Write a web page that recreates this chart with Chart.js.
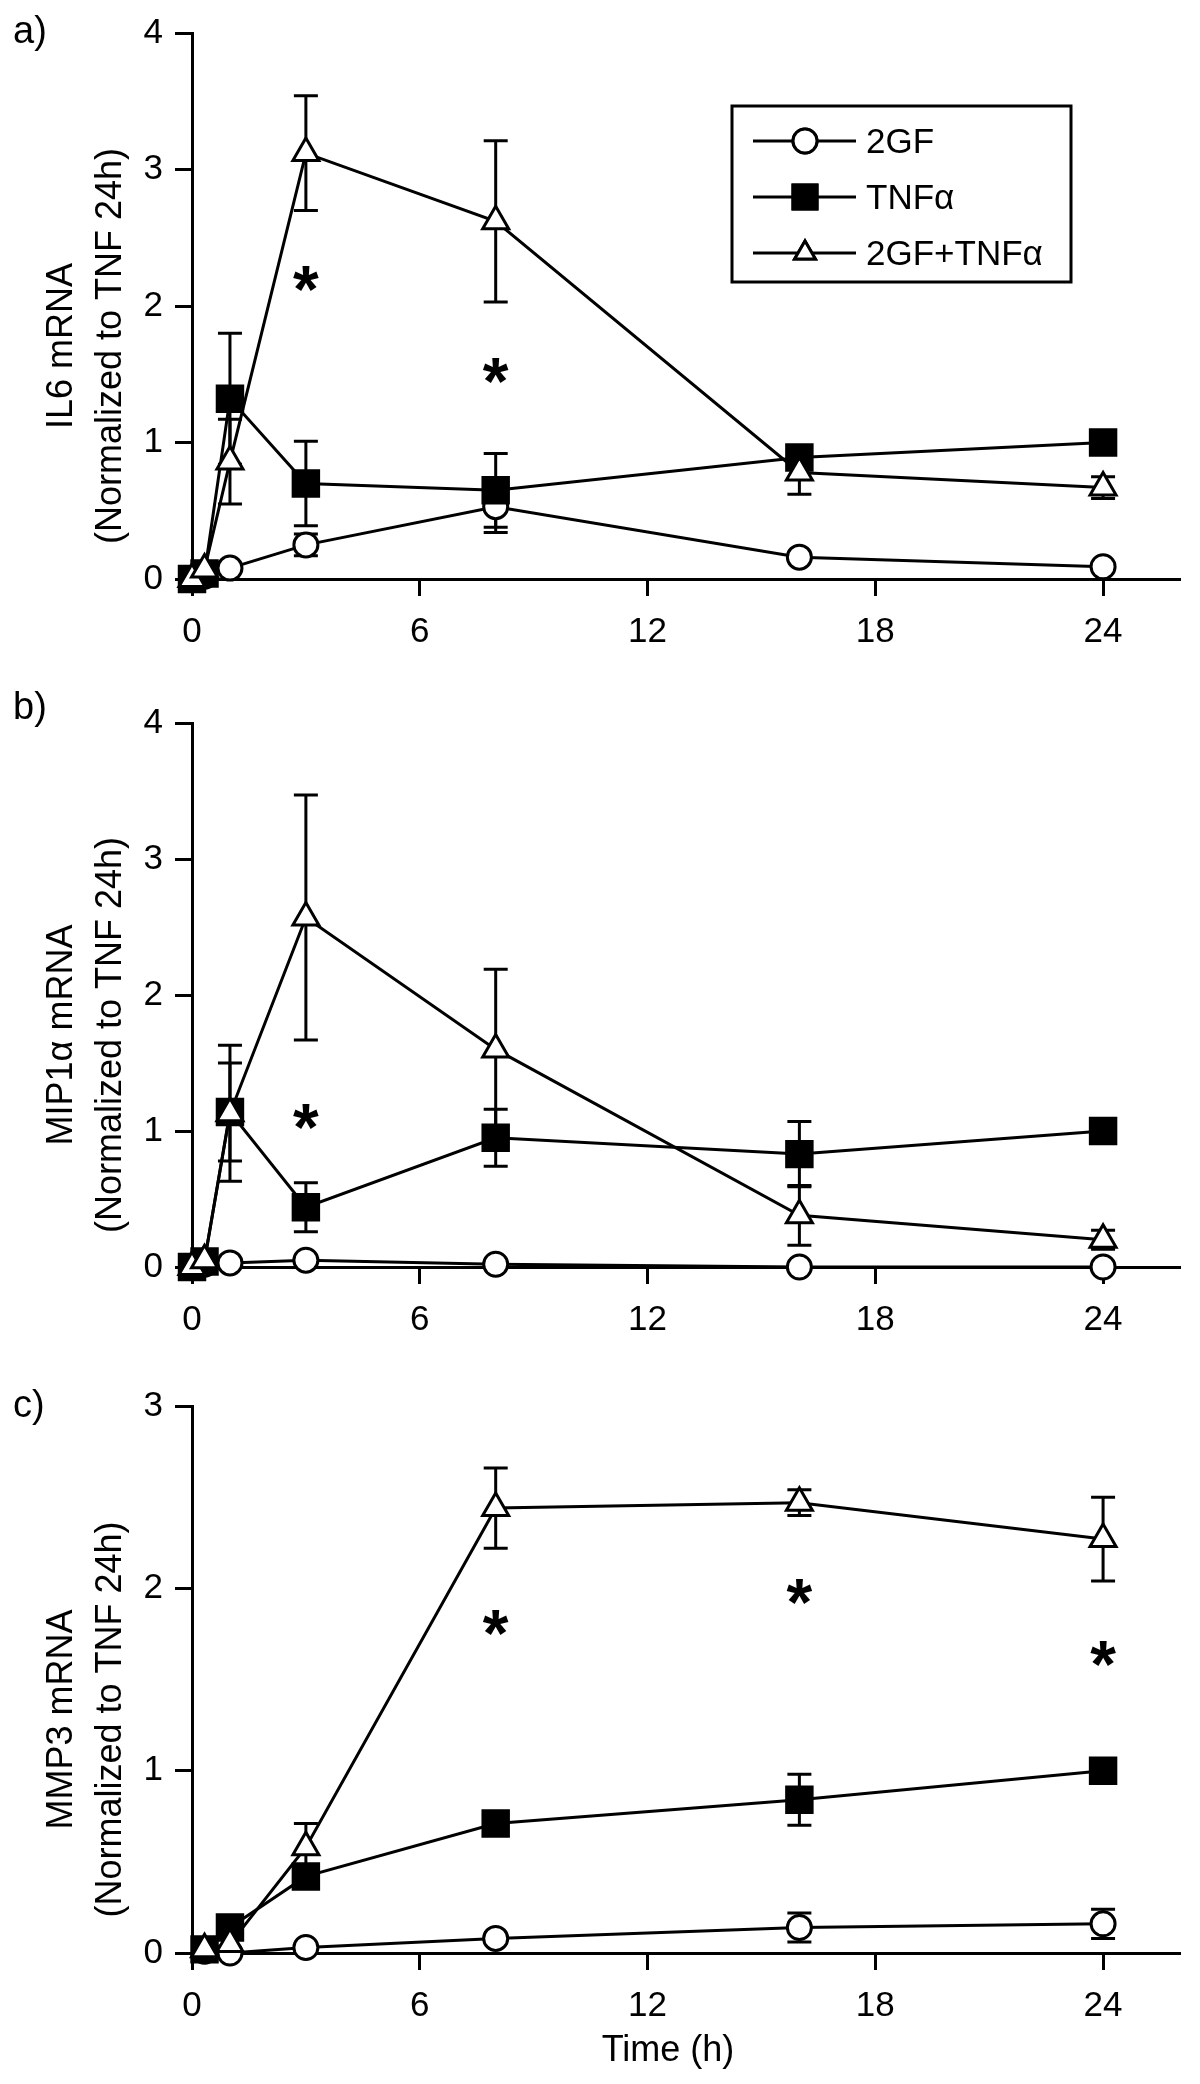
<!DOCTYPE html>
<html lang="en">
<head>
<meta charset="UTF-8">
<title>IL6, MIP1α and MMP3 mRNA time course</title>
<script src="https://cdn.jsdelivr.net/npm/chart.js"></script>
<style>
  body { margin: 0; background: #fff; width: 1200px; height: 2084px; position: relative; }
  canvas { position: absolute; left: 0; }
  #chartA { top: 0; }
  #chartB { top: 690px; }
  #chartC { top: 1370px; }
</style>
</head>
<body>
<canvas id="chartA" width="1200" height="690"></canvas>
<canvas id="chartB" width="1200" height="680"></canvas>
<canvas id="chartC" width="1200" height="714"></canvas>
<script>
// ---- data ----
const seriesNames = ['2GF', 'TNFα', '2GF+TNFα'];
const timesAB = [0, 0.33, 1, 3, 8, 16, 24];
const timesC = [0.33, 1, 3, 8, 16, 24];
const xTicks = [0, 6, 12, 18, 24];

// a) IL6
const il6_2gf      = [0, 0.02, 0.08, 0.25, 0.53, 0.16, 0.09];
const il6_2gfErr   = [null, null, null, 0.08, 0.19, null, null];
const il6_tnf      = [0, 0.04, 1.32, 0.70, 0.65, 0.89, 1.00];
const il6_tnfErr   = [null, null, 0.48, 0.31, 0.27, null, null];
const il6_both     = [0, 0.07, 0.86, 3.12, 2.62, 0.78, 0.67];
const il6_bothErr  = [null, null, 0.31, 0.42, 0.59, 0.16, 0.08];
const il6_stars    = [[3, 2.2], [8, 1.53]];

// b) MIP1alpha
const mip_2gf      = [0, 0.02, 0.03, 0.05, 0.02, 0.0, 0.0];
const mip_2gfErr   = [null, null, null, null, null, null, null];
const mip_tnf      = [0, 0.04, 1.14, 0.44, 0.95, 0.83, 1.00];
const mip_tnfErr   = [null, null, 0.36, 0.18, 0.21, 0.24, null];
const mip_both     = [0, 0.05, 1.13, 2.57, 1.60, 0.38, 0.20];
const mip_bothErr  = [null, null, 0.50, 0.90, 0.59, 0.22, 0.07];
const mip_stars    = [[3, 1.11]];

// c) MMP3
const mmp_2gf      = [0.01, 0.0, 0.03, 0.08, 0.14, 0.16];
const mmp_2gfErr   = [null, null, null, null, 0.08, 0.08];
const mmp_tnf      = [0.02, 0.14, 0.42, 0.71, 0.84, 1.00];
const mmp_tnfErr   = [null, null, null, null, 0.14, null];
const mmp_both     = [0.02, 0.05, 0.58, 2.44, 2.47, 2.27];
const mmp_bothErr  = [null, null, 0.13, 0.22, 0.07, 0.23];
const mmp_stars    = [[8, 1.81], [16, 1.98], [24, 1.64]];

// ---- styling ----
const FONT = '"Liberation Sans", Arial, Helvetica, sans-serif';
Chart.defaults.font.family = FONT;
Chart.defaults.font.size = 35;
Chart.defaults.color = '#000';

const markers = [
  { pointStyle: 'circle',   pointRadius: 12, pointBackgroundColor: '#fff' },
  { pointStyle: 'rect',     pointRadius: 18, pointBackgroundColor: '#000' },
  { pointStyle: 'triangle', pointRadius: 15, pointBackgroundColor: '#fff' }
];

function series(times, vals, errs, k) {
  return Object.assign({
    label: seriesNames[k],
    data: times.map((t, i) => ({ x: t, y: vals[i] })),
    errors: errs,
    borderColor: '#000',
    borderWidth: 3,
    pointBorderColor: '#000',
    pointBorderWidth: 3,
    tension: 0,
    clip: false,
    order: 2 - k
  }, markers[k]);
}

// error bars sit under the markers
const errorBars = {
  id: 'errorBars',
  beforeDatasetsDraw(chart) {
    const ctx = chart.ctx, ys = chart.scales.y;
    ctx.save();
    ctx.strokeStyle = '#000';
    ctx.lineWidth = 3;
    chart.data.datasets.forEach((ds, i) => {
      const meta = chart.getDatasetMeta(i);
      (ds.errors || []).forEach((e, j) => {
        if (e == null) return;
        const px = meta.data[j].x, v = ds.data[j].y;
        const top = ys.getPixelForValue(v + e), bot = ys.getPixelForValue(v - e);
        ctx.beginPath();
        ctx.moveTo(px, top); ctx.lineTo(px, bot);
        ctx.moveTo(px - 12, top); ctx.lineTo(px + 12, top);
        ctx.moveTo(px - 12, bot); ctx.lineTo(px + 12, bot);
        ctx.stroke();
      });
    });
    ctx.restore();
  }
};

// asterisks, y-axis titles, panel letters, x title
const annotations = {
  id: 'annotations',
  afterDraw(chart, args, o) {
    const ctx = chart.ctx, xs = chart.scales.x, ys = chart.scales.y, area = chart.chartArea;
    ctx.save();
    ctx.fillStyle = '#000';

    ctx.font = 'bold 66px ' + FONT;
    ctx.textAlign = 'center';
    ctx.textBaseline = 'alphabetic';
    const m = ctx.measureText('*');
    const mid = (m.actualBoundingBoxAscent - m.actualBoundingBoxDescent) / 2;
    (o.stars || []).forEach(([sx, sy]) => {
      ctx.fillText('*', xs.getPixelForValue(sx), ys.getPixelForValue(sy) + mid);
    });

    ctx.font = '36px ' + FONT;
    ctx.textBaseline = 'middle';
    const cy = (area.top + area.bottom) / 2 + 40;
    o.yTitle.forEach((line, i) => {
      ctx.save();
      ctx.translate(i === 0 ? 62 : 111, cy);
      ctx.rotate(-Math.PI / 2);
      ctx.fillText(line, 0, 0);
      ctx.restore();
    });

    ctx.font = '38px ' + FONT;
    ctx.textAlign = 'left';
    ctx.fillText(o.letter, 13, area.top + o.letterDy);

    if (o.xTitle) {
      ctx.font = '36px ' + FONT;
      ctx.textAlign = 'center';
      ctx.fillText(o.xTitle, 668, area.bottom + 98);
    }
    ctx.restore();
  }
};

// framed legend in panel a
const boxLegend = {
  id: 'boxLegend',
  afterDraw(chart) {
    const ctx = chart.ctx;
    ctx.save();
    ctx.strokeStyle = '#000';
    ctx.lineWidth = 3;
    ctx.strokeRect(732, 106, 339, 176);
    const rows = [141, 197, 253];
    chart.data.datasets
      .slice()
      .sort((a, b) => seriesNames.indexOf(a.label) - seriesNames.indexOf(b.label))
      .forEach((ds, i) => {
        const y = rows[i];
        ctx.lineWidth = 3;
        ctx.beginPath();
        ctx.moveTo(753, y); ctx.lineTo(856, y);
        ctx.stroke();
        ctx.fillStyle = ds.pointBackgroundColor;
        Chart.helpers.drawPoint(ctx, {
          pointStyle: ds.pointStyle,
          radius: ds.pointStyle === 'rect' ? 17 : 12,
          borderWidth: 3
        }, 805, y);
        ctx.fill();
        ctx.stroke();
        ctx.fillStyle = '#000';
        ctx.font = '35px ' + FONT;
        ctx.textAlign = 'left';
        ctx.textBaseline = 'middle';
        ctx.fillText(ds.label, 866, y + 2);
      });
    ctx.restore();
  }
};

function axisBlock(yMax, xHeight) {
  const line = { display: true, color: '#000', width: 3 };
  const grid = { display: true, drawOnChartArea: false, drawTicks: true, tickLength: 17, color: '#000', lineWidth: 3 };
  return {
    x: {
      type: 'linear', min: 0, max: 26,
      border: line, grid: grid,
      ticks: { stepSize: 6, includeBounds: false, padding: 15, maxRotation: 0, font: { size: 35 } },
      afterBuildTicks(scale) { scale.ticks = xTicks.map(v => ({ value: v })); },
      afterFit(scale) { scale.height = xHeight; }
    },
    y: {
      type: 'linear', min: 0, max: yMax,
      border: line, grid: grid,
      ticks: { stepSize: 1, padding: 12, font: { size: 35 } },
      afterFit(scale) { scale.width = 192; }
    }
  };
}

function makeChart(id, datasets, yMax, padTop, xHeight, ann, extra) {
  return new Chart(document.getElementById(id), {
    type: 'line',
    data: { datasets: datasets },
    options: {
      responsive: false,
      animation: false,
      layout: { padding: { top: padTop, right: 20, left: 0, bottom: 0 } },
      scales: axisBlock(yMax, xHeight),
      plugins: {
        legend: { display: false },
        tooltip: { enabled: false },
        annotations: ann
      }
    },
    plugins: [errorBars, annotations].concat(extra || [])
  });
}

makeChart('chartA', [
  series(timesAB, il6_2gf, il6_2gfErr, 0),
  series(timesAB, il6_tnf, il6_tnfErr, 1),
  series(timesAB, il6_both, il6_bothErr, 2)
], 4, 32, 111, {
  stars: il6_stars, letter: 'a)', letterDy: 0,
  yTitle: ['IL6 mRNA', '(Normalized to TNF 24h)']
}, [boxLegend]);

makeChart('chartB', [
  series(timesAB, mip_2gf, mip_2gfErr, 0),
  series(timesAB, mip_tnf, mip_tnfErr, 1),
  series(timesAB, mip_both, mip_bothErr, 2)
], 4, 30, 103, {
  stars: mip_stars, letter: 'b)', letterDy: -14,
  yTitle: ['MIP1α mRNA', '(Normalized to TNF 24h)']
});

makeChart('chartC', [
  series(timesC, mmp_2gf, mmp_2gfErr, 0),
  series(timesC, mmp_tnf, mmp_tnfErr, 1),
  series(timesC, mmp_both, mmp_bothErr, 2)
], 3, 36, 131, {
  stars: mmp_stars, letter: 'c)', letterDy: 1,
  yTitle: ['MMP3 mRNA', '(Normalized to TNF 24h)'],
  xTitle: 'Time (h)'
});
</script>
</body>
</html>
